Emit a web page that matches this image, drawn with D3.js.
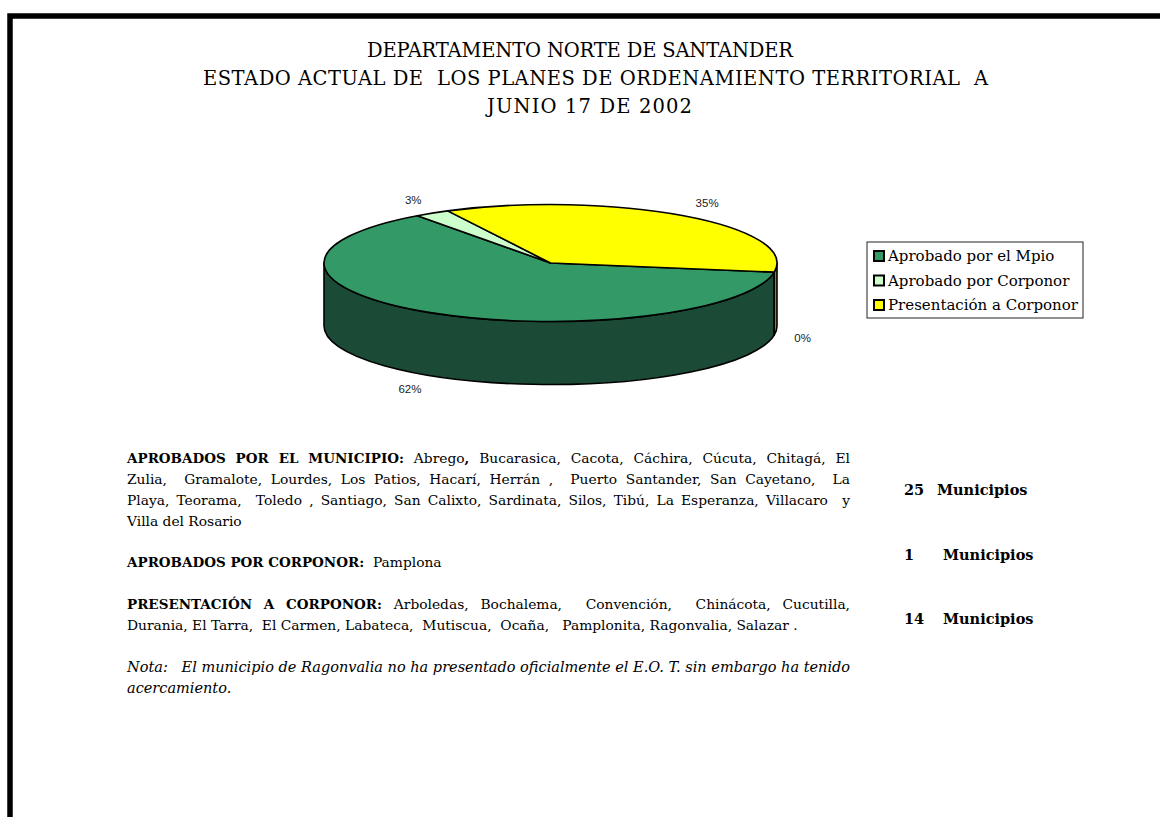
<!DOCTYPE html>
<html>
<head>
<meta charset="utf-8">
<script src="https://cdn.jsdelivr.net/npm/d3@7/dist/d3.min.js"></script>
<style>
  html, body { margin: 0; padding: 0; background: #fff; }
  svg { display: block; }
  .pre { white-space: pre; }
</style>
</head>
<body>
<svg id="chart" width="1160" height="817"></svg>
<script>
// ---------- DATA ----------
const titleLines = [
  "DEPARTAMENTO NORTE DE SANTANDER",
  "ESTADO ACTUAL DE  LOS PLANES DE ORDENAMIENTO TERRITORIAL  A",
  "JUNIO 17 DE 2002"
];
const categories = ["Aprobado por el Mpio", "Aprobado por Corponor", "Presentación a Corponor", ""];
const values = [25, 1, 14, 0];
const pctLabels = ["62%", "3%", "35%", "0%"];
const legendCategories = categories.slice(0, 3);
const countLabels = ["Municipios", "Municipios", "Municipios"];

const paragraphLines = [
  { segs: [{t: "APROBADOS POR EL MUNICIPIO:", b: 1}, {t: " Abrego"}, {t: ",", b: 1}, {t: " Bucarasica, Cacota, Cáchira, Cúcuta, Chitagá, El"}], j: true },
  { segs: [{t: "Zulia,  Gramalote, Lourdes, Los Patios, Hacarí, Herrán ,  Puerto Santander, San Cayetano,  La"}], j: true },
  { segs: [{t: "Playa, Teorama,  Toledo , Santiago, San Calixto, Sardinata, Silos, Tibú, La Esperanza, Villacaro  y"}], j: true },
  { segs: [{t: "Villa del Rosario"}], j: false },
  { segs: [{t: "APROBADOS POR CORPONOR:", b: 1}, {t: "  Pamplona"}], j: false },
  { segs: [{t: "PRESENTACIÓN A CORPONOR:", b: 1}, {t: " Arboledas, Bochalema,  Convención,  Chinácota, Cucutilla,"}], j: true },
  { segs: [{t: "Durania, El Tarra,  El Carmen, Labateca,  Mutiscua,  Ocaña,   Pamplonita, Ragonvalia, Salazar ."}], j: false },
  { segs: [{t: "Nota:   El municipio de Ragonvalia no ha presentado oficialmente el E.O. T. sin embargo ha tenido", i: 1}], j: false },
  { segs: [{t: "acercamiento.", i: 1}], j: false }
];
const lineBaselines = [463, 484, 505, 526, 567, 609, 630, 672, 693];
const countBaselines = [495, 560, 624];

// ---------- LAYOUT / STYLE ----------
const titleBoxes = [[367, 426], [203, 785], [487, 205]]; // [left, width] of each title line
const topColors = ["#339966", "#ccffcc", "#ffff00", "#9999ff"];
const sideColors = ["#1b4b36", "#7a9a7a", "#8c8c00", "#4d4d80"];
const serif = "'DejaVu Serif', serif";
const sizeRegular = 13.8, sizeBold = 13.5, sizeItalic = 14.5;

const svg = d3.select("#chart");
svg.append("rect").attr("width", 1160).attr("height", 817).attr("fill", "#fff");

// border
svg.append("rect").attr("x", 10).attr("y", 16).attr("width", 1300).attr("height", 1000)
  .attr("fill", "none").attr("stroke", "#000").attr("stroke-width", 5.5);

// title
svg.append("g").selectAll("text").data(titleLines).join("text")
  .attr("class", "pre")
  .attr("x", (d, i) => titleBoxes[i][0]).attr("y", (d, i) => 57 + i * 28)
  .attr("textLength", (d, i) => titleBoxes[i][1]).attr("lengthAdjust", "spacing")
  .attr("font-family", serif).attr("font-size", 19.5).attr("fill", "#000")
  .text(d => d);

// ---------- 3D PIE ----------
const cx = 550.5, cy = 263, rx = 226.5, ry = 58.5, depth = 63;
const deg = Math.PI / 180;
const pie = d3.pie().sort(null).value(d => d).startAngle(99 * deg).endAngle(99 * deg + 2 * Math.PI);
const arcs = pie(values);
const P = (a, dy = 0) => [cx + rx * Math.sin(a), cy - ry * Math.cos(a) + dy];

const gPie = svg.append("g");
const sides = [];
arcs.forEach((d, i) => {
  [[90 * deg, 270 * deg], [450 * deg, 630 * deg]].forEach(([lo, hi]) => {
    const s = Math.max(d.startAngle, lo), e = Math.min(d.endAngle, hi);
    if (e > s + 1e-6) sides.push({i, s, e});
  });
});
gPie.selectAll("path.side").data(sides).join("path")
  .attr("class", "side")
  .attr("d", d => {
    const p1 = P(d.s), p2 = P(d.e), p3 = P(d.e, depth), p4 = P(d.s, depth);
    return `M${p1}A${rx},${ry} 0 0 1 ${p2}L${p3}A${rx},${ry} 0 0 0 ${p4}Z`;
  })
  .attr("fill", d => sideColors[d.i])
  .attr("stroke", "#000").attr("stroke-width", 1.6).attr("stroke-linejoin", "round");

gPie.selectAll("path.top").data(arcs.filter(d => d.endAngle - d.startAngle > 1e-6)).join("path")
  .attr("class", "top")
  .attr("d", d => {
    const p1 = P(d.startAngle), p2 = P(d.endAngle);
    const large = (d.endAngle - d.startAngle) > Math.PI ? 1 : 0;
    return `M${cx},${cy}L${p1}A${rx},${ry} 0 ${large} 1 ${p2}Z`;
  })
  .attr("fill", d => topColors[d.index])
  .attr("stroke", "#000").attr("stroke-width", 1.6).attr("stroke-linejoin", "round");

gPie.selectAll("text.pct").data(arcs).join("text")
  .attr("class", "pct")
  .each(function(d) {
    const m = (d.startAngle + d.endAngle) / 2;
    const sx = Math.sin(m), sy = -Math.cos(m);
    const x = cx + rx * 1.09 * sx;
    const y = cy + ry * 1.27 * sy + (sy > 0 ? depth : 0);
    d3.select(this).attr("x", x).attr("y", y)
      .attr("text-anchor", sx > 0.3 ? "start" : (sx < -0.3 ? "end" : "middle"));
  })
  .attr("dominant-baseline", "central")
  .attr("font-family", "'Liberation Sans', Arial, sans-serif").attr("font-size", 11.5)
  .attr("fill", "#222")
  .text((d, i) => pctLabels[i]);

// ---------- LEGEND ----------
const lg = svg.append("g");
lg.append("rect").attr("x", 867).attr("y", 242).attr("width", 216).attr("height", 76)
  .attr("fill", "#fff").attr("stroke", "#222").attr("stroke-width", 1);
const li = lg.selectAll("g.item").data(legendCategories).join("g").attr("class", "item")
  .attr("transform", (d, i) => `translate(0,${256 + i * 24.5})`);
li.append("rect").attr("x", 874).attr("y", -5).attr("width", 10).attr("height", 10)
  .attr("fill", (d, i) => topColors[i]).attr("stroke", "#000").attr("stroke-width", 2);
li.append("text").attr("x", 888).attr("y", 0).attr("dominant-baseline", "central")
  .attr("font-family", serif).attr("font-size", 15).attr("fill", "#000")
  .text(d => d);

// ---------- TEXT BLOCKS ----------
const textX = 127, textW = 723;
function parseWords(segs) {
  const words = []; let cur = null; let spaces = 0;
  segs.forEach(s => {
    for (const ch of s.t) {
      if (ch === " ") { if (cur) { words.push(cur); cur = null; } spaces++; continue; }
      if (!cur) { cur = {sp: spaces, pieces: []}; spaces = 0; }
      const last = cur.pieces[cur.pieces.length - 1];
      if (last && !!last.b === !!s.b && !!last.i === !!s.i) last.t += ch;
      else cur.pieces.push({t: ch, b: s.b, i: s.i});
    }
  });
  if (cur) words.push(cur);
  return words;
}
function styleTspan(sel, p) {
  sel.attr("font-weight", p.b ? "bold" : null)
    .attr("font-style", p.i ? "italic" : null)
    .attr("font-size", p.b ? sizeBold : (p.i ? sizeItalic : sizeRegular));
}
const tg = svg.append("g").attr("font-family", serif).attr("font-size", sizeRegular).attr("fill", "#000");
paragraphLines.forEach((line, k) => {
  const y = lineBaselines[k];
  if (line.j) {
    const words = parseWords(line.segs);
    const els = words.map(w => {
      const t = tg.append("text").attr("x", 0).attr("y", y);
      w.pieces.forEach(p => styleTspan(t.append("tspan").text(p.t), p));
      return {t, w: t.node().getComputedTextLength(), sp: w.sp};
    });
    const totalW = d3.sum(els, e => e.w);
    const totalSp = d3.sum(els.slice(1), e => e.sp);
    const unit = (textW - totalW) / totalSp;
    let x = textX;
    els.forEach((e, n) => {
      if (n > 0) x += e.sp * unit;
      e.t.attr("x", x);
      x += e.w;
    });
  } else {
    const t = tg.append("text").attr("class", "pre").attr("x", textX).attr("y", y);
    line.segs.forEach(s => styleTspan(t.append("tspan").text(s.t), s));
  }
});

// counts column
const cg = svg.append("g").attr("font-family", serif).attr("font-size", 14.5)
  .attr("font-weight", "bold").attr("fill", "#000");
values.slice(0, 3).forEach((v, i) => {
  const t = cg.append("text").attr("y", countBaselines[i]);
  t.append("tspan").attr("x", 904).text(v);
  t.append("tspan").attr("x", i === 0 ? 937 : 943).text(countLabels[i]);
});
</script>
</body>
</html>
